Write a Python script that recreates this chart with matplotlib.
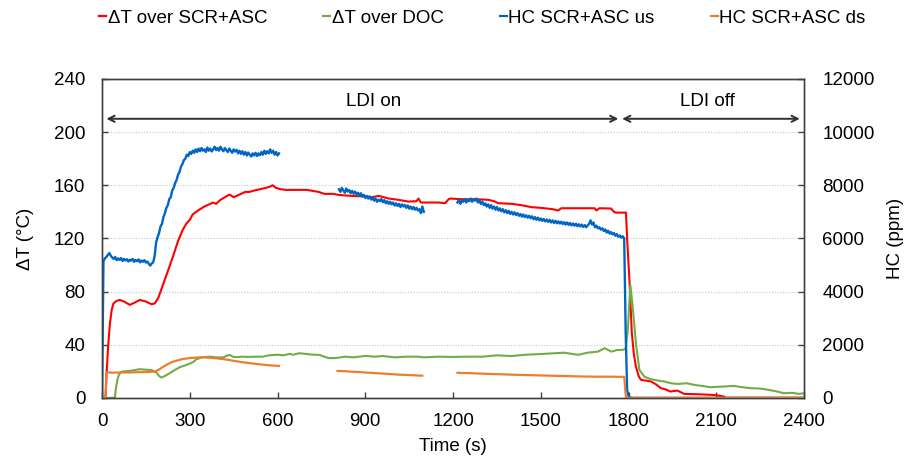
import numpy as np
import matplotlib
matplotlib.use('Agg')
import matplotlib.pyplot as plt
from matplotlib.lines import Line2D

plt.rcParams['font.family'] = ['Liberation Sans', 'DejaVu Sans']

#%% temperature differences (left axis, degC)
t_dt_scr = [0, 12, 16, 21, 27, 33, 39, 50, 61, 75, 95, 110, 129, 150, 169, 180, 192, 205, 218,
            231, 245, 260, 275, 288, 300, 310, 322, 335, 350, 365, 379, 390, 405, 420, 436,
            450, 470, 490, 504, 520, 540, 560, 575, 583, 595, 610, 629, 660, 700, 740, 760,
            790, 810, 850, 900, 923, 946, 980, 1014, 1048, 1075, 1082, 1090, 1120, 1150,
            1173, 1185, 1190, 1230, 1280, 1321, 1340, 1355, 1400, 1434, 1468, 1500, 1540,
            1559, 1570, 1620, 1684, 1690, 1700, 1740, 1750, 1757, 1791, 1795, 1803, 1811,
            1818, 1825, 1835, 1843, 1860, 1877, 1895, 1910, 1925, 1942, 1967, 1990, 2030,
            2081, 2100, 2126, 2131, 2400]
dt_scr = [0, 0, 20, 39, 56, 66, 71, 73, 73.7, 72.5, 70, 71.5, 73.7, 72.5, 70.5, 71, 75, 83, 91,
          99, 108, 118, 126, 131, 134, 138, 140, 142, 144, 145.5, 147, 146, 149, 151, 153,
          151, 153, 155, 155, 156, 157, 158, 159, 160, 158, 157, 156.5, 156.5, 156.5, 155,
          153.5, 153.5, 152.7, 152, 151.5, 151, 152, 150, 149, 147.7, 148, 150, 147, 147,
          147, 146.5, 149.5, 150, 149.5, 149.5, 149, 148, 146.5, 146, 145, 143.5, 143, 142,
          141, 142.7, 142.7, 142.7, 141, 142.7, 142.5, 140, 139.4, 139.4, 120, 88, 49, 33,
          23.6, 16, 13.5, 13, 12.3, 10, 7.3, 6.5, 4.8, 5.5, 3, 2.8, 2.3, 2, 1, 0, 0]

t_dt_doc = [0, 44, 48, 53, 58, 67, 80, 100, 115, 129, 150, 169, 186, 195, 203, 215, 231, 245,
            265, 285, 300, 312, 322, 335, 345, 368, 390, 413, 425, 436, 447, 458, 480, 500,
            527, 549, 570, 600, 620, 640, 655, 674, 700, 720, 742, 760, 776, 800, 830, 860,
            900, 930, 960, 1000, 1040, 1080, 1100, 1150, 1200, 1250, 1300, 1350, 1400, 1450,
            1500, 1540, 1580, 1627, 1660, 1695, 1718, 1741, 1760, 1780, 1790, 1797, 1806,
            1814, 1825, 1837, 1854, 1870, 1888, 1922, 1945, 1967, 2000, 2024, 2050, 2081,
            2120, 2160, 2190, 2217, 2250, 2280, 2308, 2330, 2360, 2381, 2400]
dt_doc = [0, 0, 8, 14, 17.5, 19.8, 20, 20.5, 21, 21.6, 21.2, 21, 19, 16.5, 15.3, 16.5, 18.5,
          20.5, 23, 24.5, 25.8, 27, 29, 30, 30.6, 31, 30.5, 30.4, 31.5, 32.4, 31, 30.6, 31,
          30.8, 31, 31, 32, 32.5, 32, 33.1, 32.5, 33.6, 33, 32.5, 32.4, 31, 29.9, 30, 31,
          30.5, 31.6, 31, 31.5, 30.5, 31, 31, 30.5, 31, 30.8, 31, 31, 32, 31.5, 32.5, 33,
          33.5, 34, 32.4, 34, 34.8, 37.4, 34.8, 36, 36.1, 37, 50, 85, 68.7, 41, 21, 16,
          14.5, 13.5, 12.3, 11, 10.5, 11, 9.8, 9, 8, 8.5, 9, 8, 7.3, 7, 6, 4.8, 3.5, 3.8,
          3, 3.5]

#%% HC upstream of SCR+ASC (right axis, ppm), three logged blocks
hc_us_1 = [5150, 5250, 5300, 5380, 5450, 5350, 5280, 5230, 5300, 5180,
           5250, 5190, 5260, 5150, 5230, 5170, 5220, 5130, 5200, 5160,
           5230, 5120, 5190, 5140, 5210, 5100, 5170, 5120, 5180, 5090,
           5130, 5040, 4980, 5060, 5100, 5350, 5850, 6050, 6200, 6450,
           6550, 6800, 6950, 7150, 7250, 7480, 7550, 7800, 7900, 8080,
           8200, 8400, 8500, 8700, 8800, 8950, 9000, 9150, 9100, 9250,
           9180, 9300, 9220, 9350, 9250, 9380, 9280, 9400, 9300, 9350,
           9250, 9420, 9300, 9380, 9270, 9350, 9450, 9320, 9400, 9300,
           9450, 9350, 9280, 9400, 9320, 9250, 9380, 9300, 9220, 9350,
           9270, 9330, 9200, 9300, 9180, 9280, 9150, 9250, 9120, 9230,
           9150, 9080, 9200, 9120, 9220, 9100, 9200, 9130, 9250, 9150,
           9300, 9180, 9280, 9200, 9350, 9220, 9300, 9150, 9250, 9120,
           9200]
hc_us_2 = [7850, 7750, 7900, 7800, 7720, 7880, 7760, 7820, 7700, 7790,
           7680, 7760, 7650, 7720, 7600, 7700, 7580, 7640, 7520, 7600,
           7500, 7580, 7460, 7540, 7420, 7500, 7380, 7460, 7400, 7480,
           7360, 7440, 7320, 7400, 7300, 7380, 7280, 7350, 7240, 7320,
           7220, 7300, 7180, 7280, 7200, 7260, 7150, 7240, 7120, 7200,
           7100, 7180, 7080, 7150, 7050, 7100, 6950, 7200, 7000]
hc_us_3 = [7350, 7450, 7300, 7420, 7380, 7480, 7350, 7450, 7400, 7500,
           7380, 7480, 7420, 7500, 7350, 7430, 7300, 7380, 7250, 7320,
           7200, 7280, 7150, 7250, 7120, 7200, 7080, 7180, 7050, 7130,
           7020, 7100, 6980, 7060, 6950, 7040, 6920, 7000, 6900, 6980,
           6880, 6950, 6850, 6920, 6820, 6900, 6800, 6870, 6780, 6850,
           6760, 6830, 6720, 6800, 6700, 6780, 6680, 6750, 6660, 6730,
           6640, 6710, 6620, 6700, 6600, 6680, 6580, 6660, 6570, 6640,
           6560, 6630, 6540, 6610, 6520, 6600, 6510, 6580, 6490, 6560,
           6480, 6550, 6460, 6530, 6450, 6520, 6430, 6500, 6420, 6490,
           6550, 6680, 6520, 6600, 6420, 6480, 6380, 6420, 6330, 6380,
           6280, 6340, 6220, 6290, 6180, 6240, 6150, 6200, 6100, 6160,
           6060, 6110, 6030, 6080, 6000]
t_us_tail = [1790, 1795, 1800, 1810, 2400]
hc_us_tail = [2500, 300, 60, 0, 0]

#%% HC downstream of SCR+ASC (right axis, ppm)
hc_ds_1 = [950, 960, 945, 955, 950, 965, 950, 960, 955, 965,
           960, 970, 965, 975, 970, 980, 985, 1010, 1070, 1140,
           1210, 1270, 1330, 1370, 1400, 1430, 1460, 1475, 1490, 1505,
           1510, 1520, 1525, 1530, 1520, 1515, 1505, 1495, 1485, 1470,
           1455, 1440, 1425, 1400, 1385, 1370, 1350, 1335, 1320, 1305,
           1295, 1280, 1270, 1255, 1245, 1235, 1225, 1215, 1210, 1200]
hc_ds_2 = [1015, 1010, 1005, 1000, 990, 985, 980, 975, 965, 960,
           950, 945, 940, 930, 925, 915, 910, 905, 895, 890,
           880, 875, 870, 865, 860, 855, 850, 845, 840, 835]
hc_ds_3 = [945, 940, 935, 935, 930, 925, 920, 918, 915, 910,
           905, 900, 898, 895, 890, 885, 882, 880, 875, 870,
           868, 865, 860, 858, 855, 850, 848, 845, 842, 840,
           836, 832, 830, 828, 825, 822, 820, 818, 815, 812,
           810, 808, 806, 804, 802, 800, 800, 798, 796, 795,
           800, 798, 796, 795, 794, 792, 790, 790]
t_ds_tail = [1791, 2400]
hc_ds_tail = [0, 0]

# sample times of the logged blocks (s); NaN breaks the line between blocks
t_us = np.concatenate([[0], np.arange(5, 606, 5), [np.nan], np.arange(810, 1101, 5),
                       [np.nan], np.arange(1215, 1786, 5), t_us_tail])
hc_us = np.concatenate([[0], hc_us_1, [np.nan], hc_us_2, [np.nan], hc_us_3, hc_us_tail])
t_ds = np.concatenate([[0, 12], np.arange(15, 606, 10), [np.nan], np.arange(805, 1096, 10),
                       [np.nan], np.arange(1215, 1786, 10), t_ds_tail])
hc_ds = np.concatenate([[0, 0], hc_ds_1, [np.nan], hc_ds_2, [np.nan], hc_ds_3, hc_ds_tail])

#%% plot
c_red, c_green, c_blue, c_orange = '#FF0000', '#70AD47', '#0066C4', '#ED7D31'
c_axis = '#404040'

fig = plt.figure(figsize=(9.19, 4.67), dpi=100)
ax = fig.add_axes([0.111, 0.148, 0.764, 0.683])
ax2 = ax.twinx()

ax.plot(t_dt_scr, dt_scr, color=c_red, lw=1.5)
ax.plot(t_dt_doc, dt_doc, color=c_green, lw=1.5)
ax2.plot(t_us, hc_us, color=c_blue, lw=1.7)
ax2.plot(t_ds, hc_ds, color=c_orange, lw=1.6)

ax.set_xlim(0, 2400)
ax.set_ylim(0, 240)
ax2.set_ylim(0, 12000)
ax.set_xticks(np.arange(0, 2401, 300))
ax.set_yticks(np.arange(0, 241, 40))
ax2.set_yticks(np.arange(0, 12001, 2000))

ax.yaxis.grid(True, color='#c8c8c8', ls=(0, (1, 1.5)), lw=0.8)
ax.set_axisbelow(True)

for a in (ax, ax2):
    for s in a.spines.values():
        s.set_color(c_axis)
        s.set_linewidth(1.0)
    a.tick_params(direction='in', length=4, width=1.0, color=c_axis,
                  labelsize=13.5, labelcolor='black')
ax.tick_params(axis='y', pad=12)
ax.tick_params(axis='x', pad=11)
ax2.tick_params(axis='y', pad=13)

ax.set_xlabel('Time (s)', fontsize=13.5, labelpad=6)
ax.set_ylabel('ΔT (°C)', fontsize=13.5, labelpad=14)
ax2.set_ylabel('HC (ppm)', fontsize=13.5, labelpad=9)

# LDI phases
arr = dict(arrowstyle='<->', color='#303030', lw=1.4, mutation_scale=11, shrinkA=0, shrinkB=0)
ax.annotate('', xy=(15, 210), xytext=(1765, 210), arrowprops=arr)
ax.annotate('', xy=(1778, 210), xytext=(2385, 210), arrowprops=arr)
ax.text(929, 223, 'LDI on', ha='center', va='center', fontsize=13.5)
ax.text(2070, 223, 'LDI off', ha='center', va='center', fontsize=13.5)

handles = [Line2D([], [], color=c, lw=1.6) for c in (c_red, c_green, c_blue, c_orange)]
labels = ['ΔT over SCR+ASC', 'ΔT over DOC', 'HC SCR+ASC us', 'HC SCR+ASC ds']
fig.legend(handles, labels, loc='center', bbox_to_anchor=(0.525, 0.961), ncol=4,
           frameon=False, handlelength=0.35, handletextpad=0.1, columnspacing=3.0,
           prop={'size': 13.5})

fig.savefig('out.png', dpi=100)
